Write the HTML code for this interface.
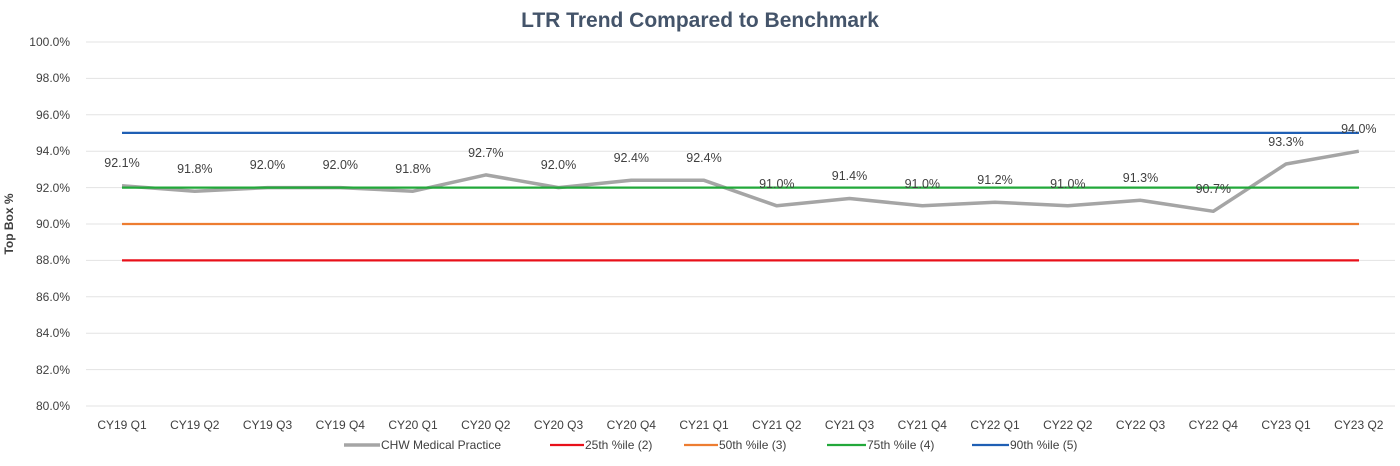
<!DOCTYPE html>
<html><head><meta charset="utf-8"><style>
html,body{margin:0;padding:0;background:#fff;}
svg{display:block;font-family:"Liberation Sans",sans-serif;}
</style></head><body>
<svg width="1400" height="466" xmlns="http://www.w3.org/2000/svg">
<text x="700" y="27" text-anchor="middle" font-size="21" font-weight="bold" fill="#44546a">LTR Trend Compared to Benchmark</text>
<g stroke="#e3e3e3" stroke-width="1">
<line x1="86" x2="1395" y1="42" y2="42"/><line x1="86" x2="1395" y1="78.4" y2="78.4"/>
<line x1="86" x2="1395" y1="114.8" y2="114.8"/><line x1="86" x2="1395" y1="151.2" y2="151.2"/>
<line x1="86" x2="1395" y1="187.6" y2="187.6"/><line x1="86" x2="1395" y1="224" y2="224"/>
<line x1="86" x2="1395" y1="260.4" y2="260.4"/><line x1="86" x2="1395" y1="296.8" y2="296.8"/>
<line x1="86" x2="1395" y1="333.2" y2="333.2"/><line x1="86" x2="1395" y1="369.6" y2="369.6"/>
<line x1="86" x2="1395" y1="406" y2="406"/>
</g>
<g font-size="12" fill="#404040" text-anchor="end">
<text x="70" y="46">100.0%</text><text x="70" y="82">98.0%</text><text x="70" y="119">96.0%</text>
<text x="70" y="155">94.0%</text><text x="70" y="192">92.0%</text><text x="70" y="228">90.0%</text>
<text x="70" y="264">88.0%</text><text x="70" y="301">86.0%</text><text x="70" y="337">84.0%</text>
<text x="70" y="374">82.0%</text><text x="70" y="410">80.0%</text>
</g>
<text transform="translate(13,224) rotate(-90)" text-anchor="middle" font-size="12" font-weight="bold" fill="#404040">Top Box %</text>
<g stroke-width="2.2">
<line x1="122" x2="1359" y1="260.4" y2="260.4" stroke="#e8101a"/>
<line x1="122" x2="1359" y1="224" y2="224" stroke="#ed7d31"/>
<line x1="122" x2="1359" y1="132.9" y2="132.9" stroke="#1f5fb4"/>
</g>
<polyline fill="none" stroke="#a5a5a5" stroke-width="3.5" stroke-linejoin="round" points="122,185.8 194.8,191.2 267.5,187.6 340.3,187.6 413,191.2 485.8,174.9 558.5,187.6 631.3,180.3 704,180.3 776.8,205.8 849.5,198.5 922.3,205.8 995,202.2 1067.8,205.8 1140.5,200.3 1213.3,211.3 1286,164 1358.8,151.2"/>
<line x1="122" x2="1359" y1="187.6" y2="187.6" stroke="#22a83a" stroke-width="2.2"/>
<g font-size="12.5" fill="#404040" text-anchor="middle">
<text x="122" y="167">92.1%</text><text x="194.8" y="173">91.8%</text><text x="267.5" y="169">92.0%</text>
<text x="340.3" y="169">92.0%</text><text x="413" y="173">91.8%</text><text x="485.8" y="157">92.7%</text>
<text x="558.5" y="169">92.0%</text><text x="631.3" y="162">92.4%</text><text x="704" y="162">92.4%</text>
<text x="776.8" y="188">91.0%</text><text x="849.5" y="180">91.4%</text><text x="922.3" y="188">91.0%</text>
<text x="995" y="184">91.2%</text><text x="1067.8" y="188">91.0%</text><text x="1140.5" y="182">91.3%</text>
<text x="1213.3" y="193">90.7%</text><text x="1286" y="146">93.3%</text><text x="1358.8" y="133">94.0%</text>
</g>
<g font-size="12" fill="#404040" text-anchor="middle">
<text x="122" y="429">CY19 Q1</text><text x="194.8" y="429">CY19 Q2</text><text x="267.5" y="429">CY19 Q3</text>
<text x="340.3" y="429">CY19 Q4</text><text x="413" y="429">CY20 Q1</text><text x="485.8" y="429">CY20 Q2</text>
<text x="558.5" y="429">CY20 Q3</text><text x="631.3" y="429">CY20 Q4</text><text x="704" y="429">CY21 Q1</text>
<text x="776.8" y="429">CY21 Q2</text><text x="849.5" y="429">CY21 Q3</text><text x="922.3" y="429">CY21 Q4</text>
<text x="995" y="429">CY22 Q1</text><text x="1067.8" y="429">CY22 Q2</text><text x="1140.5" y="429">CY22 Q3</text>
<text x="1213.3" y="429">CY22 Q4</text><text x="1286" y="429">CY23 Q1</text><text x="1358.8" y="429">CY23 Q2</text>
</g>
<g font-size="12" fill="#404040">
<line x1="344" x2="380" y1="445" y2="445" stroke="#a5a5a5" stroke-width="3.5"/><text x="381" y="449">CHW Medical Practice</text>
<line x1="550" x2="584" y1="445" y2="445" stroke="#e8101a" stroke-width="2.2"/><text x="585" y="449">25th %ile (2)</text>
<line x1="684" x2="718" y1="445" y2="445" stroke="#ed7d31" stroke-width="2.2"/><text x="719" y="449">50th %ile (3)</text>
<line x1="827" x2="866" y1="445" y2="445" stroke="#22a83a" stroke-width="2.2"/><text x="867" y="449">75th %ile (4)</text>
<line x1="972" x2="1009" y1="445" y2="445" stroke="#1f5fb4" stroke-width="2.2"/><text x="1010" y="449">90th %ile (5)</text>
</g>
</svg>
</body></html>
